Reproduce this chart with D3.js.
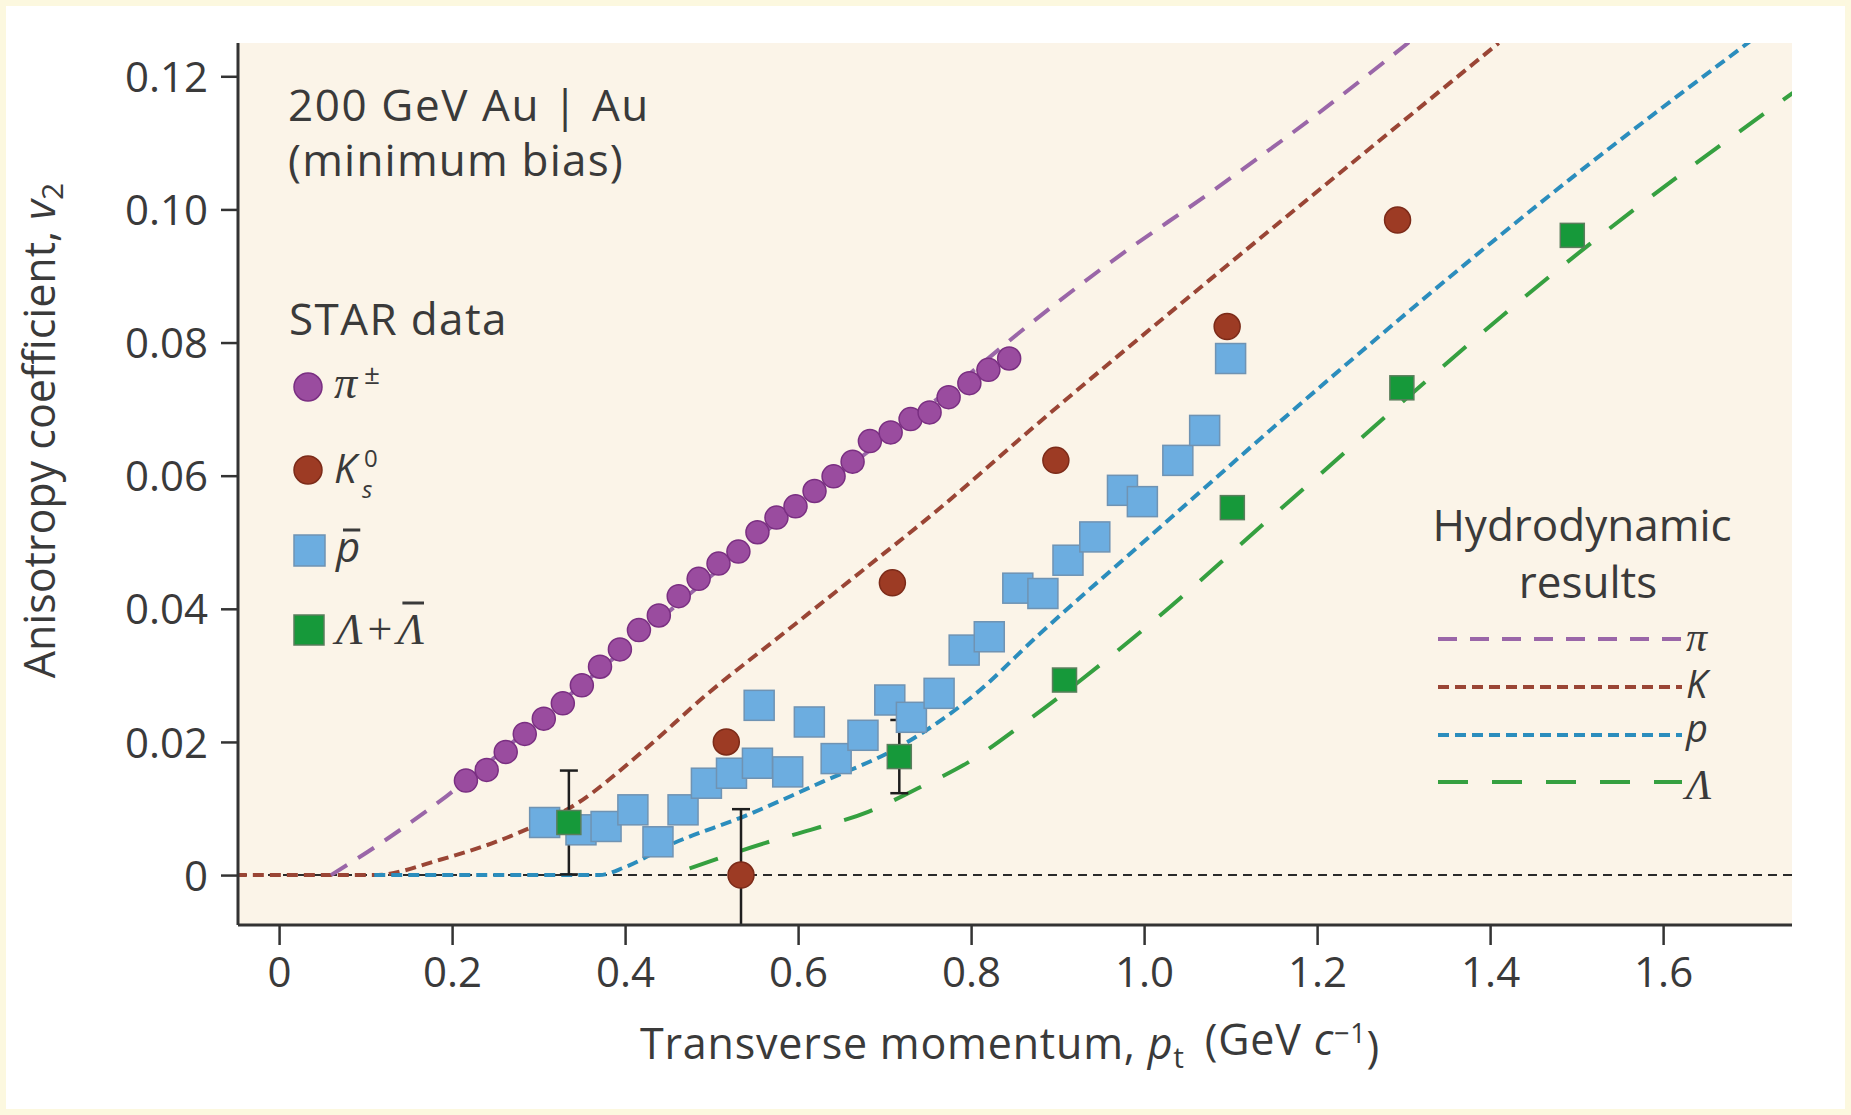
<!DOCTYPE html>
<html>
<head>
<meta charset="utf-8">
<script src="https://cdn.jsdelivr.net/npm/d3@7"></script>
<style>
  body { margin: 0; background: #ffffff; }
  svg { display: block; }
  text { font-family: "Open Sans", "Noto Sans", sans-serif; fill: #3a3a3a; }
  .serif { font-family: "Liberation Serif", "DejaVu Serif", serif; }
</style>
</head>
<body>
<svg id="chart" width="1851" height="1115"></svg>
<script>
// ---- STAR measurements: elliptic flow v2 versus transverse momentum pt (GeV/c) ----
const pionPt = [0.216, 0.240, 0.262, 0.284, 0.306, 0.328, 0.350, 0.371, 0.394, 0.416,
                0.439, 0.462, 0.485, 0.508, 0.531, 0.553, 0.575, 0.597, 0.619, 0.641,
                0.663, 0.683, 0.707, 0.730, 0.752, 0.774, 0.798, 0.820, 0.844];
const pionV2 = [0.0142, 0.0158, 0.0185, 0.0212, 0.0235, 0.0258, 0.0285, 0.0313, 0.0339, 0.0368,
                0.0390, 0.0419, 0.0445, 0.0468, 0.0486, 0.0515, 0.0537, 0.0554, 0.0577, 0.0599,
                0.0621, 0.0652, 0.0665, 0.0685, 0.0695, 0.0718, 0.0739, 0.0759, 0.0776];

const kaonPt  = [0.517, 0.534, 0.709, 0.898, 1.096, 1.293];
const kaonV2  = [0.0200, 0.0000, 0.0439, 0.0623, 0.0824, 0.0984];
const kaonErr = [0, 0.0099, 0, 0, 0, 0];

const pbarPt = [0.307, 0.349, 0.378, 0.409, 0.438, 0.467, 0.494, 0.523, 0.553, 0.555,
                0.588, 0.613, 0.644, 0.675, 0.706, 0.731, 0.763, 0.792, 0.821, 0.854,
                0.883, 0.912, 0.943, 0.975, 0.998, 1.039, 1.070, 1.100];
const pbarV2 = [0.0079, 0.0068, 0.0073, 0.0098, 0.0050, 0.0098, 0.0138, 0.0153, 0.0168, 0.0255,
                0.0155, 0.0230, 0.0175, 0.0210, 0.0263, 0.0237, 0.0273, 0.0338, 0.0358, 0.0431,
                0.0423, 0.0473, 0.0508, 0.0578, 0.0561, 0.0623, 0.0668, 0.0776];

const lambdaPt  = [0.335, 0.717, 0.908, 1.102, 1.298, 1.495];
const lambdaV2  = [0.0079, 0.0178, 0.0293, 0.0552, 0.0732, 0.0961];
const lambdaErr = [0.0078, 0.0055, 0, 0, 0, 0];

// ---- hydrodynamic model curves ----
const hydroPiPt = [0.06, 0.12, 0.193, 0.30, 0.40, 0.50, 0.60, 0.70, 0.80, 0.853, 0.95, 1.087, 1.20, 1.31];
const hydroPiV2 = [0.0, 0.0050, 0.0118, 0.0232, 0.0340, 0.0450, 0.0555, 0.0655, 0.0755, 0.0812, 0.0910, 0.1035, 0.1143, 0.1255];

const hydroKPt = [-0.05, 0.11, 0.186, 0.274, 0.345, 0.416, 0.495, 0.584, 0.672, 0.761, 0.875, 1.07, 1.25, 1.41];
const hydroKV2 = [0.0, 0.0, 0.0023, 0.0062, 0.0108, 0.0181, 0.0272, 0.0364, 0.0455, 0.0548, 0.0676, 0.0888, 0.1080, 0.1250];

const hydroPPt = [0.11, 0.37, 0.40, 0.451, 0.539, 0.628, 0.716, 0.805, 0.879, 1.006, 1.156, 1.491, 1.70];
const hydroPV2 = [0.0, 0.0, 0.0012, 0.0045, 0.0089, 0.0140, 0.0192, 0.0272, 0.0362, 0.0508, 0.0680, 0.1044, 0.1252];

const hydroLPt = [0.4745, 0.5615, 0.6145, 0.681, 0.738, 0.800, 0.858, 1.014, 1.156, 1.526, 1.75];
const hydroLV2 = [0.0010, 0.0048, 0.0068, 0.0095, 0.0130, 0.0172, 0.0225, 0.0385, 0.0548, 0.0959, 0.1175];

const xTicks = [0, 0.2, 0.4, 0.6, 0.8, 1.0, 1.2, 1.4, 1.6];
const yTicks = [0, 0.02, 0.04, 0.06, 0.08, 0.10, 0.12];

// ---- layout ----
const W = 1851, H = 1115;
const plot = { left: 238, right: 1792, top: 43, bottom: 925 };

const svg = d3.select("#chart");

// page frame
svg.append("rect").attr("width", W).attr("height", H).attr("fill", "#fcf8df");
svg.append("rect").attr("x", 6).attr("y", 6).attr("width", W - 12).attr("height", H - 12).attr("fill", "#ffffff");

const x = d3.scaleLinear().domain([-0.0475, 1.749]).range([plot.left, plot.right]);
const y = d3.scaleLinear().domain([-0.0075, 0.125]).range([plot.bottom, plot.top]);

// plot background
svg.append("rect")
  .attr("x", plot.left).attr("y", plot.top)
  .attr("width", plot.right - plot.left).attr("height", plot.bottom - plot.top)
  .attr("fill", "#fbf4e8");

svg.append("clipPath").attr("id", "plotClip")
  .append("rect")
  .attr("x", plot.left).attr("y", plot.top)
  .attr("width", plot.right - plot.left).attr("height", plot.bottom - plot.top);

const inner = svg.append("g").attr("clip-path", "url(#plotClip)");

// zero reference line
inner.append("line")
  .attr("x1", plot.left).attr("x2", plot.right)
  .attr("y1", y(0)).attr("y2", y(0))
  .attr("stroke", "#2a2a2a").attr("stroke-width", 2)
  .attr("stroke-dasharray", "9,6");

// hydrodynamic curves
const curves = [
  { pt: hydroKPt,  v2: hydroKV2,  color: "#9a4535", dash: "11,6" },
  { pt: hydroPPt,  v2: hydroPV2,  color: "#2b8dbd", dash: "11,6" },
  { pt: hydroPiPt, v2: hydroPiV2, color: "#9a66a8", dash: "19,13" },
  { pt: hydroLPt,  v2: hydroLV2,  color: "#35a040", dash: "30,24" }
];
const lineGen = d3.line()
  .x(d => x(d[0])).y(d => y(d[1]))
  .curve(d3.curveMonotoneX);

curves.forEach(c => {
  inner.append("path")
    .datum(c.pt.map((p, i) => [p, c.v2[i]]))
    .attr("d", lineGen)
    .attr("fill", "none")
    .attr("stroke", c.color)
    .attr("stroke-width", 4)
    .attr("stroke-dasharray", c.dash);
});

// error bars
function errorBars(pts, vals, errs) {
  const data = pts.map((p, i) => ({ p, v: vals[i], e: errs[i] })).filter(d => d.e > 0);
  const g = inner.append("g").attr("stroke", "#1e1e1e").attr("stroke-width", 2.5);
  data.forEach(d => {
    g.append("line").attr("x1", x(d.p)).attr("x2", x(d.p))
      .attr("y1", y(d.v + d.e)).attr("y2", y(d.v - d.e));
    [d.v + d.e, d.v - d.e].forEach(v => {
      g.append("line").attr("x1", x(d.p) - 9).attr("x2", x(d.p) + 9)
        .attr("y1", y(v)).attr("y2", y(v));
    });
  });
}
errorBars(kaonPt, kaonV2, kaonErr);
errorBars(lambdaPt, lambdaV2, lambdaErr);

// antiproton squares
const pbarSide = 30;
inner.append("g").selectAll("rect")
  .data(pbarPt.map((p, i) => [p, pbarV2[i]]))
  .join("rect")
  .attr("x", d => x(d[0]) - pbarSide / 2)
  .attr("y", d => y(d[1]) - pbarSide / 2)
  .attr("width", pbarSide).attr("height", pbarSide)
  .attr("fill", "#6cade0").attr("stroke", "#6f93b3").attr("stroke-width", 1.5);

// pions
inner.append("g").selectAll("circle")
  .data(pionPt.map((p, i) => [p, pionV2[i]]))
  .join("circle")
  .attr("cx", d => x(d[0])).attr("cy", d => y(d[1]))
  .attr("r", 11.5)
  .attr("fill", "#9a4c9f").attr("stroke", "#7a2f82").attr("stroke-width", 1.5);

// kaons
inner.append("g").selectAll("circle")
  .data(kaonPt.map((p, i) => [p, kaonV2[i]]))
  .join("circle")
  .attr("cx", d => x(d[0])).attr("cy", d => y(d[1]))
  .attr("r", 13)
  .attr("fill", "#9d3b24").attr("stroke", "#7c2b19").attr("stroke-width", 1.5);

// lambdas
const lamSide = 24;
inner.append("g").selectAll("rect")
  .data(lambdaPt.map((p, i) => [p, lambdaV2[i]]))
  .join("rect")
  .attr("x", d => x(d[0]) - lamSide / 2)
  .attr("y", d => y(d[1]) - lamSide / 2)
  .attr("width", lamSide).attr("height", lamSide)
  .attr("fill", "#16993a").attr("stroke", "#5a7e5c").attr("stroke-width", 1.5);

// ---- axes ----
const yAxis = svg.append("g")
  .attr("transform", `translate(${plot.left},0)`)
  .call(d3.axisLeft(y).tickValues(yTicks).tickSize(17).tickSizeOuter(0).tickPadding(13)
        .tickFormat(d => d === 0 ? "0" : d.toFixed(2)));
yAxis.select(".domain").attr("stroke", "#333").attr("stroke-width", 3)
  .attr("d", `M0,${plot.top}V${plot.bottom}`);
yAxis.selectAll(".tick line").attr("stroke", "#333").attr("stroke-width", 2.5);
yAxis.selectAll(".tick text")
  .attr("dy", "0.36em")
  .style("font-family", '"Open Sans", sans-serif')
  .style("font-size", "42px").style("fill", "#3a3a3a");

const xAxis = svg.append("g")
  .attr("transform", `translate(0,${plot.bottom})`)
  .call(d3.axisBottom(x).tickValues(xTicks).tickSize(20).tickSizeOuter(0)
        .tickFormat(d => d === 0 ? "0" : d.toFixed(1)));
xAxis.select(".domain").attr("stroke", "#333").attr("stroke-width", 3)
  .attr("d", `M${plot.left},0H${plot.right}`);
xAxis.selectAll(".tick line").attr("stroke", "#333").attr("stroke-width", 2.5);
xAxis.selectAll(".tick text")
  .attr("dy", null).attr("y", 62)
  .style("font-family", '"Open Sans", sans-serif')
  .style("font-size", "42px").style("fill", "#3a3a3a");

// axis titles
const yTitle = svg.append("text")
  .attr("transform", `translate(55,${(171 + 690) / 2}) rotate(-90)`)
  .attr("text-anchor", "middle")
  .style("font-size", "43px");
yTitle.append("tspan").text("Anisotropy coefficient, ");
yTitle.append("tspan").style("font-style", "italic").text("v");
yTitle.append("tspan").attr("dy", "0.28em").style("font-size", "30px").text("2");

const xTitle = svg.append("text")
  .attr("x", 1010).attr("y", 1059)
  .attr("text-anchor", "middle")
  .style("font-size", "43px")
  .style("letter-spacing", "0.8px");
xTitle.append("tspan").text("Transverse momentum, ");
xTitle.append("tspan").style("font-style", "italic").text("p");
xTitle.append("tspan").attr("dy", "0.3em").style("font-size", "30px").text("t");
xTitle.append("tspan").attr("dy", "-0.3em").attr("dx", 20).text("(GeV ");
xTitle.append("tspan").style("font-style", "italic").text("c");
xTitle.append("tspan").attr("dy", "-0.45em").style("font-size", "27px").text("\u22121");
xTitle.append("tspan").attr("dy", "0.45em").text(")");

// collision system annotation
svg.append("text").attr("x", 288).attr("y", 121).style("font-size", "44px")
  .style("letter-spacing", "1.6px").text("200 GeV Au | Au");
svg.append("text").attr("x", 288).attr("y", 176).style("font-size", "44px")
  .style("letter-spacing", "1.2px").text("(minimum bias)");

// ---- data legend ----
svg.append("text").attr("x", 289).attr("y", 335).style("font-size", "44px")
  .style("letter-spacing", "1.4px").text("STAR data");

const leg = svg.append("g");
leg.append("circle").attr("cx", 308).attr("cy", 387).attr("r", 14)
  .attr("fill", "#9a4c9f").attr("stroke", "#7a2f82").attr("stroke-width", 1.5);
leg.append("text").attr("class", "serif").attr("x", 334).attr("y", 398)
  .style("font-size", "46px").style("font-style", "italic").text("\u03c0");
leg.append("text").attr("x", 364).attr("y", 384).style("font-size", "28px").text("\u00b1");

leg.append("circle").attr("cx", 308).attr("cy", 470).attr("r", 14)
  .attr("fill", "#9d3b24").attr("stroke", "#7c2b19").attr("stroke-width", 1.5);
leg.append("text").attr("x", 334).attr("y", 483).style("font-size", "40px")
  .style("font-style", "italic").text("K");
leg.append("text").attr("x", 364).attr("y", 467).style("font-size", "24px").text("0");
leg.append("text").attr("x", 362).attr("y", 498).style("font-size", "24px")
  .style("font-style", "italic").text("s");

leg.append("rect").attr("x", 294).attr("y", 535).attr("width", 31).attr("height", 31)
  .attr("fill", "#6cade0").attr("stroke", "#6f93b3").attr("stroke-width", 1.5);
const pLabel = leg.append("text").attr("x", 336).attr("y", 562).style("font-size", "42px")
  .style("font-style", "italic").text("p");
const pExt = pLabel.node().getExtentOfChar(0);
leg.append("line").attr("x1", pExt.x + 7).attr("x2", pExt.x + pExt.width)
  .attr("y1", 530).attr("y2", 530)
  .attr("stroke", "#3a3a3a").attr("stroke-width", 3);

leg.append("rect").attr("x", 294).attr("y", 615).attr("width", 30).attr("height", 30)
  .attr("fill", "#16993a").attr("stroke", "#5a7e5c").attr("stroke-width", 1.5);
const lL = leg.append("text").attr("class", "serif").attr("x", 336).attr("y", 644)
  .style("font-size", "44px");
lL.append("tspan").style("font-style", "italic").text("\u039b");
lL.append("tspan").attr("dx", 5).text("+");
lL.append("tspan").attr("dx", 5).style("font-style", "italic").text("\u039b");
const lamExt = lL.node().getExtentOfChar(2);
leg.append("line").attr("x1", lamExt.x + 5).attr("x2", lamExt.x + lamExt.width)
  .attr("y1", 603).attr("y2", 603)
  .attr("stroke", "#3a3a3a").attr("stroke-width", 3);

// ---- hydrodynamic legend ----
svg.append("text").attr("x", 1582).attr("y", 541).attr("text-anchor", "middle")
  .style("font-size", "44px").text("Hydrodynamic");
svg.append("text").attr("x", 1588).attr("y", 598).attr("text-anchor", "middle")
  .style("font-size", "44px").text("results");

const hydroLegend = [
  { label: "\u03c0", serif: true,  y: 639, c: curves[2], ty: 651 },
  { label: "K",      serif: false, y: 687, c: curves[0], ty: 698 },
  { label: "p",      serif: false, y: 735, c: curves[1], ty: 742 },
  { label: "\u039b", serif: true,  y: 782, c: curves[3], ty: 799 }
];
hydroLegend.forEach(h => {
  svg.append("line")
    .attr("x1", 1438).attr("x2", 1682).attr("y1", h.y).attr("y2", h.y)
    .attr("stroke", h.c.color).attr("stroke-width", 4)
    .attr("stroke-dasharray", h.c.dash);
  const t = svg.append("text").attr("x", 1686).attr("y", h.ty)
    .style("font-size", h.serif ? "42px" : "38px").style("font-style", "italic")
    .text(h.label);
  if (h.serif) t.attr("class", "serif");
});
</script>
</body>
</html>
